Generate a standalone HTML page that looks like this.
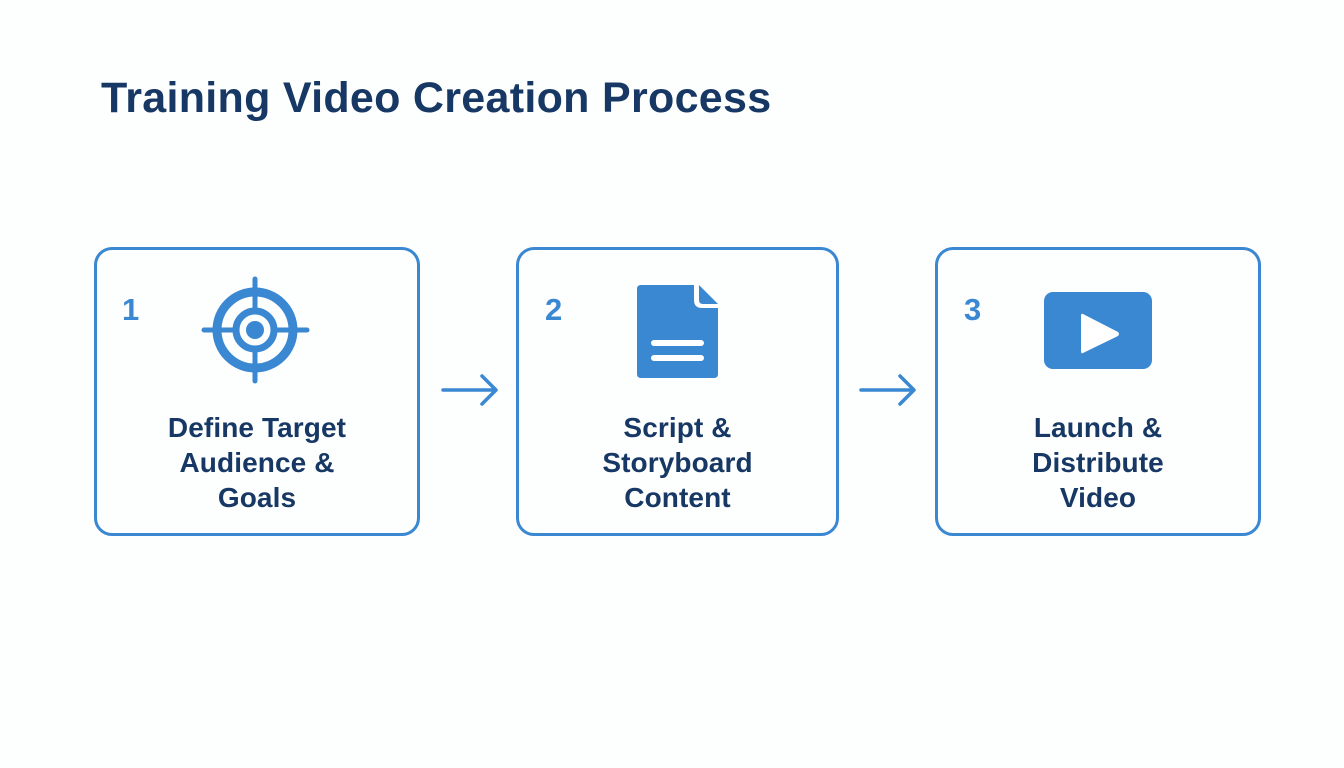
<!DOCTYPE html>
<html><head><meta charset="utf-8"><style>
body{margin:0;width:1344px;height:768px;background:#fdfefe;font-family:"Liberation Sans",sans-serif;position:relative;overflow:hidden}
.t{position:absolute;left:101px;top:74px;font-size:43px;font-weight:bold;color:#173864;white-space:nowrap;letter-spacing:0.3px}
.box{position:absolute;top:247px;height:283px;border:3px solid #3a87d2;border-radius:18px;box-sizing:content-box}
.n{position:absolute;font-size:31px;font-weight:bold;color:#3a87d2}
.l{position:absolute;top:410px;text-align:center;font-size:28px;font-weight:bold;color:#173864;line-height:35px;letter-spacing:0.1px}
</style></head><body>
<div class="t">Training Video Creation Process</div>
<div class="box" style="left:94px;width:320px"></div>
<div class="box" style="left:516px;width:317px"></div>
<div class="box" style="left:935px;width:320px"></div>
<div class="n" style="left:122px;top:292px">1</div>
<div class="n" style="left:545px;top:292px">2</div>
<div class="n" style="left:964px;top:292px">3</div>
<div class="l" style="left:97px;width:320px">Define Target<br>Audience &amp;<br>Goals</div>
<div class="l" style="left:519px;width:317px">Script &amp;<br>Storyboard<br>Content</div>
<div class="l" style="left:938px;width:320px">Launch &amp;<br>Distribute<br>Video</div>
<svg width="1344" height="768" style="position:absolute;left:0;top:0">
<g fill="none" stroke="#3a87d2">
<circle cx="255" cy="330" r="38" stroke-width="9"/>
<circle cx="255" cy="330" r="19" stroke-width="7"/>
<path d="M204 330H237M273 330H307M255 279V312M255 348V381" stroke-width="5" stroke-linecap="round"/>
<path d="M443 390H496M482 376L496 390L482 404" stroke-width="3.5" stroke-linecap="round" stroke-linejoin="round"/>
<path d="M861 390H914M900 376L914 390L900 404" stroke-width="3.5" stroke-linecap="round" stroke-linejoin="round"/>
</g>
<circle cx="255" cy="330" r="9" fill="#3a87d2"/>
<path d="M641 285H694V300Q694 308 702 308H718V374Q718 378 714 378H641Q637 378 637 374V289Q637 285 641 285Z" fill="#3a87d2"/>
<path d="M699 285L718 304H703Q699 304 699 300Z" fill="#3a87d2"/>
<rect x="651" y="340" width="53" height="6" rx="3" fill="#fff"/>
<rect x="651" y="355" width="53" height="6" rx="3" fill="#fff"/>
<rect x="1044" y="292" width="108" height="77" rx="9" fill="#3a87d2"/>
<path d="M1083 314L1118 332Q1120 334 1118 336L1083 353Q1081 354 1081 351V316Q1081 313 1083 314Z" fill="#fff"/>
</svg>
</body></html>
